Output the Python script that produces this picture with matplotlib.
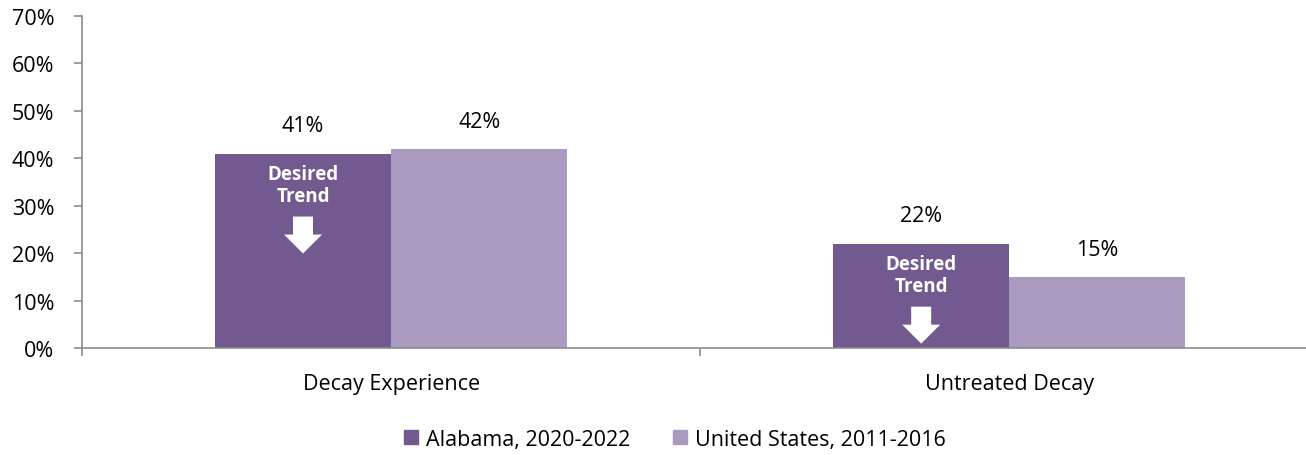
import matplotlib
matplotlib.use("Agg")
import matplotlib.pyplot as plt
from matplotlib.patches import Patch, Polygon
from matplotlib.transforms import IdentityTransform
import numpy as np

categories = ["Decay Experience", "Untreated Decay"]
series_names = ["Alabama, 2020-2022", "United States, 2011-2016"]
alabama = [41, 22]
us = [42, 15]
y_ticks = [0, 10, 20, 30, 40, 50, 60, 70]

c_al = "#72598F"
c_us = "#A99BC0"
plt.rcParams['font.family'] = ['Open Sans', 'DejaVu Sans']
FS = 15.5

fig = plt.figure(figsize=(13.06, 4.56), dpi=100)
ax = fig.add_axes([82/1306, 107/456, 1224/1306, 332/456])

x = np.arange(len(categories))
w = 0.285
b1 = ax.bar(x - w/2, alabama, w, color=c_al, label=series_names[0])
b2 = ax.bar(x + w/2, us, w, color=c_us, label=series_names[1])

ax.set_xlim(-0.5, 1.48)
ax.set_ylim(0, 70)

for bars, vals in ((b1, alabama), (b2, us)):
    for r, v in zip(bars, vals):
        ax.annotate(f"{v}%", (r.get_x() + r.get_width()/2, v), xytext=(0, 20),
                    textcoords="offset points", ha="center", va="center", fontsize=FS)

for r, v in zip(b1, alabama):
    cx = r.get_x() + r.get_width()/2
    ax.annotate("Desired\nTrend", (cx, v), xytext=(0, -22.7), textcoords="offset points",
                ha="center", va="center", fontsize=13.5, color="white", fontweight="bold",
                linespacing=1.15)
    px, py = ax.transData.transform((cx, v))
    # block arrow below text, in pixel offsets from the bar top
    top, neck, tip = py - 63, py - 81, py - 100
    sw, hw = 10, 19
    pts = [(px - sw, top), (px + sw, top), (px + sw, neck), (px + hw, neck),
           (px, tip), (px - hw, neck), (px - sw, neck)]
    fig.patches.append(Polygon(pts, closed=True, facecolor="white", edgecolor="none",
                               transform=IdentityTransform(), figure=fig))

ax.set_yticks(y_ticks)
ax.set_yticklabels([f"{t}%" for t in y_ticks], fontsize=FS)
ax.set_xticks(x)
ax.set_xticklabels(categories, fontsize=FS)
ax.tick_params(axis="x", length=0, pad=18)
ax.set_xticks([-0.5, 0.5], minor=True)
ax.tick_params(axis="x", which="minor", length=6, color="#8C8C8C", width=1.2)
ax.tick_params(axis="y", length=6, color="#8C8C8C", width=1.2, pad=14)
for s in ("top", "right"):
    ax.spines[s].set_visible(False)
for s in ("left", "bottom"):
    ax.spines[s].set_color("#8C8C8C")
    ax.spines[s].set_linewidth(1.2)

handles = [Patch(color=c_al, label=series_names[0]), Patch(color=c_us, label=series_names[1])]
fig.legend(handles=handles, loc="center", bbox_to_anchor=(0.517, 0.035), ncol=2, frameon=False,
           fontsize=FS, handlelength=0.65, handleheight=0.65, handletextpad=0.37, columnspacing=2.0)

fig.savefig("out.png", dpi=100)
